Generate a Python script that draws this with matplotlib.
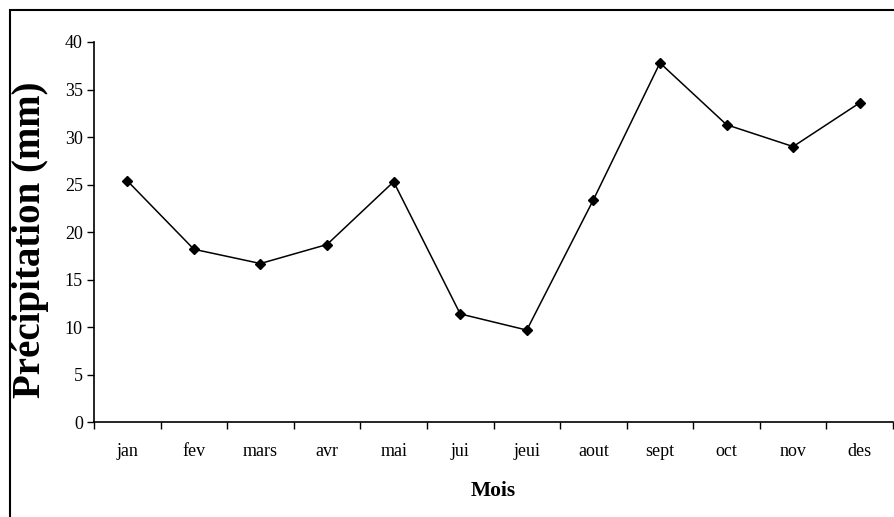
import matplotlib.pyplot as plt
from matplotlib.patches import Rectangle
import numpy as np

mois = ['jan', 'fev', 'mars', 'avr', 'mai', 'jui', 'jeui', 'aout', 'sept', 'oct', 'nov', 'des']
precipitation = [25.4, 18.2, 16.7, 18.7, 25.3, 11.4, 9.7, 23.4, 37.8, 31.3, 29.0, 33.6]

plt.rcParams['font.family'] = ['Liberation Serif', 'DejaVu Serif']

fig = plt.figure(figsize=(8.94, 5.17), dpi=100)
ax = fig.add_axes([94 / 894, (517 - 422.3) / 517, 799 / 894, 380.3 / 517])

x = np.arange(len(mois)) + 0.5
ax.plot(x, precipitation, color='black', lw=1.1, marker='D', markersize=5)

ax.set_xlim(0, len(mois))
ax.set_ylim(0, 40)
ax.set_yticks(range(0, 41, 5))
ax.set_xticks(range(len(mois) + 1))
ax.set_xticklabels([])
ax.set_xticks(x, minor=True)
ax.set_xticklabels(mois, minor=True)
ax.tick_params(axis='x', which='major', direction='out', length=5, width=1)
ax.tick_params(axis='x', which='minor', length=0, pad=15, labelsize=13)
ax.tick_params(axis='y', direction='out', length=5, width=1, labelsize=13, pad=3)

for s in ['top', 'right']:
    ax.spines[s].set_visible(False)
for s in ['left', 'bottom']:
    ax.spines[s].set_linewidth(1.2)

ax.set_xlabel('Mois', fontsize=15.5, fontweight='bold', labelpad=15)
ax.set_ylabel('Précipitation (mm)', fontsize=28, fontweight='bold')
ax.yaxis.set_label_coords(-0.056, 0.48)

# cadre autour du graphique
fig.patches.append(Rectangle((10 / 894, -0.1), 2, (517 - 10) / 517 + 0.1,
                             transform=fig.transFigure, fill=False,
                             edgecolor='black', lw=1.5))

fig.savefig('out.png', dpi=100)
